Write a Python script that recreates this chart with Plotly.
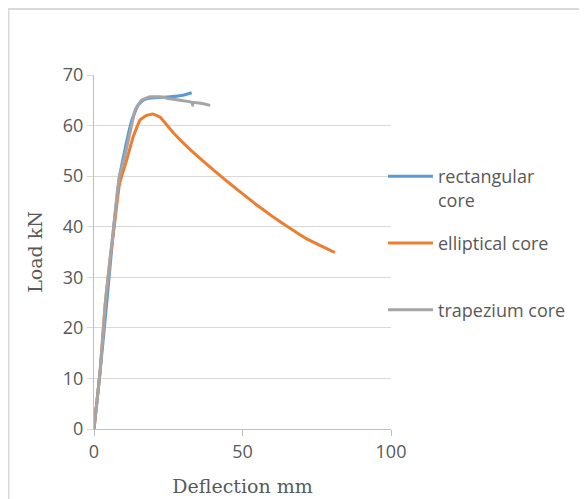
import plotly.graph_objects as go

rect_x = [0, 2, 4.3, 6.5, 8.5, 10.5, 12.7, 14.8, 16.5, 17.7, 20, 25.6, 30, 32.9]
rect_y = [0, 11, 25, 39, 49.5, 55.5, 61, 64, 65, 65.3, 65.5, 65.7, 66.0, 66.5]

ellip_x = [0, 2, 3.8, 5.5, 6.8, 8.6, 11, 13.2, 15.5, 17.7, 19.8, 22.2, 24.4, 26.7, 32.3, 37.9, 43.5, 49.2, 54.8, 60.4, 66.0, 71.6, 81.1]
ellip_y = [0, 11, 25, 34, 40, 48.5, 53.2, 57.8, 61.1, 62.0, 62.3, 61.7, 60.2, 58.6, 55.3, 52.4, 49.6, 46.9, 44.3, 41.9, 39.7, 37.6, 34.9]

trap_x = [0, 2, 3.9, 6.5, 8.5, 10.2, 12.1, 13.8, 16, 18.9, 22.2, 25.6, 29, 32.9, 33.2, 33.4, 36, 39.1]
trap_y = [0, 11, 25.5, 39.4, 49.9, 53.5, 58.5, 63, 65, 65.7, 65.7, 65.3, 65, 64.6, 64.0, 64.6, 64.4, 64]

names = ["rectangular<br>core", "elliptical core<br> ", "trapezium core"]
colors = ["#5B9BD5", "#ED7D31", "#A5A5A5"]

fig = go.Figure()
for i, (xs, ys) in enumerate([(rect_x, rect_y), (ellip_x, ellip_y), (trap_x, trap_y)]):
    fig.add_trace(go.Scatter(x=xs, y=ys, mode="lines", name=names[i],
                             line=dict(color=colors[i], width=3, shape="spline", smoothing=0.3),
                             legendgroup=str(i)))

# page body has 8px margin
W, H = 579, 491
L, R, T, B = 86, 383, 67, 421
pw, ph = R - L, B - T

def px(x):
    return (x - L) / pw

def py(y):
    return (B - y) / ph

fig.update_layout(
    width=W, height=H,
    margin=dict(l=L, r=W - R, t=T, b=H - B),
    paper_bgcolor="white", plot_bgcolor="white",
    font=dict(family="Open Sans", color="#595959", size=18),
    showlegend=True,
    legend=dict(x=px(375), y=py(150), xanchor="left", yanchor="top",
                font=dict(size=18, color="#595959"), tracegroupgap=17,
                itemwidth=45, valign="top",
                bgcolor="rgba(0,0,0,0)"),
    xaxis=dict(range=[0, 100], tickvals=[0, 50, 100], showgrid=False,
               showline=True, linecolor="#BFBFBF", linewidth=1,
               ticks="outside", ticklen=6, tickcolor="#BFBFBF",
               zeroline=False, tickfont=dict(size=18), automargin=False,
               title=dict(text="Deflection mm", font=dict(family="DejaVu Serif", size=19, color="#595959"), standoff=18)),
    yaxis=dict(range=[0, 70], tickvals=[0, 10, 20, 30, 40, 50, 60, 70], showgrid=True,
               gridcolor="#D9D9D9", gridwidth=1,
               showline=True, linecolor="#BFBFBF", linewidth=1,
               ticks="outside", ticklen=6, tickcolor="#D9D9D9",
               zeroline=False, tickfont=dict(size=18), automargin=False,
               title=dict(text="Load kN", font=dict(family="DejaVu Serif", size=19, color="#595959"), standoff=15)),
    shapes=[dict(type="rect", xref="paper", yref="paper",
                 x0=px(0.5), x1=px(W + 5), y0=py(H + 10), y1=py(1),
                 line=dict(color="#D9D9D9", width=2), fillcolor="rgba(0,0,0,0)", layer="below")],
)

fig.write_html("out.html")
